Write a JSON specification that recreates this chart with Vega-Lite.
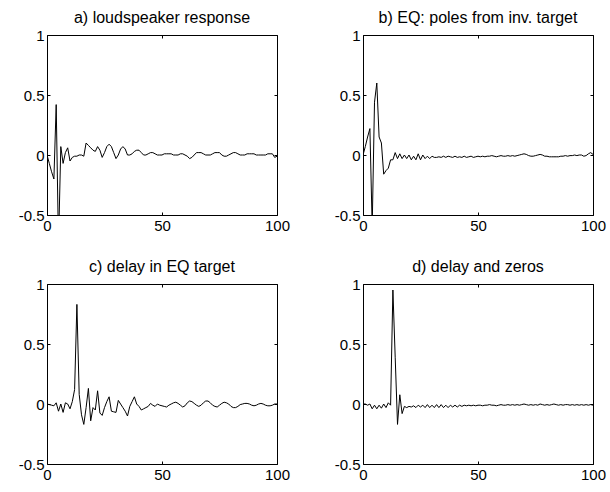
{
  "$schema": "https://vega.github.io/schema/vega-lite/v6.json",
  "background": "white",
  "padding": {"left": 17, "top": 9, "right": 5, "bottom": 5},
  "data": {"values": [
    {"n":0,"a":0.0,"b":0.0,"c":0.0,"d":0.0},
    {"n":1,"a":-0.07,"b":0.07,"c":-0.005,"d":0.0},
    {"n":2,"a":-0.14,"b":0.15,"c":-0.01,"d":-0.01},
    {"n":3,"a":-0.2,"b":0.22,"c":-0.015,"d":0.0},
    {"n":4,"a":0.42,"b":-0.6,"c":0.01,"d":-0.04},
    {"n":5,"a":-0.75,"b":0.44,"c":-0.06,"d":-0.01},
    {"n":6,"a":0.07,"b":0.6,"c":0.0,"d":-0.04},
    {"n":7,"a":-0.07,"b":0.15,"c":-0.07,"d":-0.01},
    {"n":8,"a":0.02,"b":0.1,"c":0.01,"d":-0.035},
    {"n":9,"a":0.06,"b":-0.16,"c":0.0,"d":0.0},
    {"n":10,"a":-0.05,"b":-0.13,"c":-0.04,"d":-0.03},
    {"n":11,"a":-0.02,"b":-0.11,"c":0.02,"d":0.01},
    {"n":12,"a":-0.01,"b":-0.04,"c":0.12,"d":-0.01},
    {"n":13,"a":-0.01,"b":-0.04,"c":0.83,"d":0.95},
    {"n":14,"a":0.0,"b":0.02,"c":0.08,"d":0.39},
    {"n":15,"a":0.0,"b":-0.03,"c":-0.09,"d":-0.17},
    {"n":16,"a":-0.01,"b":0.01,"c":-0.17,"d":0.077},
    {"n":17,"a":0.1,"b":-0.03,"c":-0.03,"d":-0.08},
    {"n":18,"a":0.08,"b":0.0,"c":0.13,"d":-0.02},
    {"n":19,"a":0.06,"b":-0.03,"c":-0.14,"d":-0.03},
    {"n":20,"a":0.04,"b":0.0,"c":-0.03,"d":-0.02},
    {"n":21,"a":0.03,"b":-0.04,"c":-0.05,"d":-0.025},
    {"n":22,"a":0.07,"b":-0.01,"c":0.11,"d":-0.015},
    {"n":23,"a":0.04,"b":-0.04,"c":-0.075,"d":-0.03},
    {"n":24,"a":-0.02,"b":0.01,"c":-0.095,"d":-0.01},
    {"n":25,"a":0.02,"b":-0.04,"c":-0.03,"d":-0.025},
    {"n":26,"a":0.07,"b":0.0,"c":0.02,"d":-0.01},
    {"n":27,"a":0.09,"b":-0.03,"c":0.06,"d":-0.03},
    {"n":28,"a":0.07,"b":-0.01,"c":-0.06,"d":-0.005},
    {"n":29,"a":0.02,"b":-0.03,"c":-0.065,"d":-0.03},
    {"n":30,"a":-0.03,"b":-0.01,"c":-0.07,"d":-0.01},
    {"n":31,"a":0.0,"b":-0.02,"c":0.03,"d":-0.03},
    {"n":32,"a":0.05,"b":-0.02,"c":0.0,"d":-0.005},
    {"n":33,"a":0.07,"b":-0.015,"c":-0.03,"d":-0.03},
    {"n":34,"a":0.05,"b":-0.02,"c":-0.06,"d":-0.005},
    {"n":35,"a":0.0,"b":-0.01,"c":-0.1,"d":-0.03},
    {"n":36,"a":0.0,"b":-0.02,"c":-0.02,"d":-0.01},
    {"n":37,"a":0.01,"b":-0.01,"c":0.02,"d":-0.03},
    {"n":38,"a":0.03,"b":-0.015,"c":0.06,"d":-0.01},
    {"n":39,"a":0.04,"b":-0.02,"c":0.0,"d":-0.025},
    {"n":40,"a":0.04,"b":-0.01,"c":-0.02,"d":-0.01},
    {"n":41,"a":0.02,"b":-0.02,"c":-0.05,"d":-0.025},
    {"n":42,"a":0.0,"b":-0.015,"c":-0.04,"d":-0.01},
    {"n":43,"a":0.0,"b":-0.02,"c":-0.03,"d":-0.02},
    {"n":44,"a":0.01,"b":-0.01,"c":-0.02,"d":-0.01},
    {"n":45,"a":0.02,"b":-0.02,"c":0.005,"d":-0.015},
    {"n":46,"a":0.02,"b":-0.015,"c":-0.01,"d":-0.01},
    {"n":47,"a":0.01,"b":-0.01,"c":-0.02,"d":-0.015},
    {"n":48,"a":0.0,"b":-0.02,"c":0.0,"d":-0.01},
    {"n":49,"a":0.0,"b":-0.015,"c":-0.01,"d":-0.015},
    {"n":50,"a":0.0,"b":-0.01,"c":-0.015,"d":-0.01},
    {"n":51,"a":0.01,"b":-0.015,"c":-0.02,"d":-0.01},
    {"n":52,"a":0.01,"b":-0.01,"c":-0.025,"d":-0.015},
    {"n":53,"a":0.01,"b":-0.015,"c":-0.01,"d":-0.01},
    {"n":54,"a":0.01,"b":-0.01,"c":0.0,"d":-0.01},
    {"n":55,"a":0.0,"b":-0.01,"c":0.01,"d":-0.005},
    {"n":56,"a":0.0,"b":-0.005,"c":0.015,"d":-0.01},
    {"n":57,"a":0.0,"b":-0.01,"c":0.005,"d":-0.01},
    {"n":58,"a":0.01,"b":-0.015,"c":-0.01,"d":-0.015},
    {"n":59,"a":0.01,"b":-0.01,"c":-0.025,"d":-0.01},
    {"n":60,"a":0.0,"b":-0.005,"c":-0.015,"d":-0.005},
    {"n":61,"a":-0.01,"b":-0.01,"c":0.01,"d":-0.01},
    {"n":62,"a":-0.03,"b":-0.01,"c":0.025,"d":-0.01},
    {"n":63,"a":-0.02,"b":-0.005,"c":0.02,"d":-0.005},
    {"n":64,"a":0.0,"b":-0.01,"c":0.005,"d":-0.01},
    {"n":65,"a":0.02,"b":-0.005,"c":-0.01,"d":-0.005},
    {"n":66,"a":0.02,"b":-0.01,"c":-0.02,"d":-0.01},
    {"n":67,"a":0.02,"b":-0.005,"c":-0.01,"d":-0.005},
    {"n":68,"a":0.01,"b":0.0,"c":0.01,"d":-0.01},
    {"n":69,"a":0.0,"b":0.005,"c":0.025,"d":-0.005},
    {"n":70,"a":0.0,"b":0.01,"c":0.025,"d":0.0},
    {"n":71,"a":0.0,"b":0.005,"c":0.01,"d":-0.005},
    {"n":72,"a":0.01,"b":-0.005,"c":-0.01,"d":-0.01},
    {"n":73,"a":0.02,"b":-0.01,"c":-0.02,"d":-0.005},
    {"n":74,"a":0.02,"b":-0.01,"c":-0.025,"d":-0.01},
    {"n":75,"a":0.02,"b":-0.005,"c":-0.01,"d":-0.005},
    {"n":76,"a":0.0,"b":0.0,"c":0.005,"d":-0.01},
    {"n":77,"a":-0.01,"b":0.005,"c":0.015,"d":0.0},
    {"n":78,"a":-0.01,"b":0.0,"c":0.01,"d":-0.005},
    {"n":79,"a":0.0,"b":-0.01,"c":0.0,"d":-0.01},
    {"n":80,"a":0.01,"b":-0.01,"c":-0.02,"d":-0.005},
    {"n":81,"a":0.02,"b":-0.015,"c":-0.03,"d":-0.01},
    {"n":82,"a":0.02,"b":-0.015,"c":-0.03,"d":-0.005},
    {"n":83,"a":0.01,"b":-0.015,"c":-0.02,"d":0.0},
    {"n":84,"a":0.0,"b":-0.015,"c":-0.005,"d":-0.005},
    {"n":85,"a":0.0,"b":-0.015,"c":0.0,"d":-0.01},
    {"n":86,"a":0.0,"b":-0.01,"c":0.005,"d":-0.005},
    {"n":87,"a":0.01,"b":-0.01,"c":0.005,"d":-0.01},
    {"n":88,"a":0.01,"b":-0.005,"c":0.0,"d":-0.005},
    {"n":89,"a":0.01,"b":-0.01,"c":-0.01,"d":-0.005},
    {"n":90,"a":0.01,"b":-0.005,"c":-0.015,"d":-0.01},
    {"n":91,"a":0.0,"b":-0.005,"c":-0.01,"d":-0.005},
    {"n":92,"a":0.0,"b":0.0,"c":0.0,"d":-0.01},
    {"n":93,"a":0.0,"b":-0.005,"c":0.005,"d":-0.005},
    {"n":94,"a":0.0,"b":0.0,"c":0.0,"d":-0.01},
    {"n":95,"a":0.0,"b":0.0,"c":-0.01,"d":-0.005},
    {"n":96,"a":0.01,"b":-0.01,"c":-0.015,"d":-0.01},
    {"n":97,"a":0.01,"b":-0.005,"c":-0.015,"d":-0.005},
    {"n":98,"a":0.01,"b":0.01,"c":-0.01,"d":-0.01},
    {"n":99,"a":-0.02,"b":0.02,"c":0.0,"d":-0.005},
    {"n":100,"a":-0.01,"b":0.005,"c":0.0,"d":-0.01}
  ]},
  "columns": 2,
  "spacing": {"row": 69, "column": 86},
  "bounds": "flush",
  "concat": [
    {
      "title": "a) loudspeaker response",
      "width": 230, "height": 180,
      "layer": [
        {"mark": {"type": "line", "color": "black", "strokeWidth": 1, "clip": true},
         "encoding": {
           "x": {"field": "n", "type": "quantitative", "scale": {"domain": [0, 100], "nice": false}, "axis": {"values": [0, 50, 100], "title": null}},
           "y": {"field": "a", "type": "quantitative", "scale": {"domain": [-0.5, 1], "nice": false}, "axis": {"values": [-0.5, 0, 0.5, 1], "title": null, "labelExpr": "toString(datum.value)"}}
         }},
        {"mark": {"type": "line", "opacity": 0},
         "encoding": {
           "x": {"field": "n", "type": "quantitative", "axis": {"orient": "top", "values": [0, 50, 100], "labels": false, "title": null}},
           "y": {"field": "a", "type": "quantitative", "axis": {"orient": "right", "values": [-0.5, 0, 0.5, 1], "labels": false, "title": null}}
         }}
      ],
      "resolve": {"axis": {"x": "independent", "y": "independent"}}
    },
    {
      "title": "b) EQ: poles from inv. target",
      "width": 230, "height": 180,
      "layer": [
        {"mark": {"type": "line", "color": "black", "strokeWidth": 1, "clip": true},
         "encoding": {
           "x": {"field": "n", "type": "quantitative", "scale": {"domain": [0, 100], "nice": false}, "axis": {"values": [0, 50, 100], "title": null}},
           "y": {"field": "b", "type": "quantitative", "scale": {"domain": [-0.5, 1], "nice": false}, "axis": {"values": [-0.5, 0, 0.5, 1], "title": null, "labelExpr": "toString(datum.value)"}}
         }},
        {"mark": {"type": "line", "opacity": 0},
         "encoding": {
           "x": {"field": "n", "type": "quantitative", "axis": {"orient": "top", "values": [0, 50, 100], "labels": false, "title": null}},
           "y": {"field": "b", "type": "quantitative", "axis": {"orient": "right", "values": [-0.5, 0, 0.5, 1], "labels": false, "title": null}}
         }}
      ],
      "resolve": {"axis": {"x": "independent", "y": "independent"}}
    },
    {
      "title": "c) delay in EQ target",
      "width": 230, "height": 180,
      "layer": [
        {"mark": {"type": "line", "color": "black", "strokeWidth": 1, "clip": true},
         "encoding": {
           "x": {"field": "n", "type": "quantitative", "scale": {"domain": [0, 100], "nice": false}, "axis": {"values": [0, 50, 100], "title": null}},
           "y": {"field": "c", "type": "quantitative", "scale": {"domain": [-0.5, 1], "nice": false}, "axis": {"values": [-0.5, 0, 0.5, 1], "title": null, "labelExpr": "toString(datum.value)"}}
         }},
        {"mark": {"type": "line", "opacity": 0},
         "encoding": {
           "x": {"field": "n", "type": "quantitative", "axis": {"orient": "top", "values": [0, 50, 100], "labels": false, "title": null}},
           "y": {"field": "c", "type": "quantitative", "axis": {"orient": "right", "values": [-0.5, 0, 0.5, 1], "labels": false, "title": null}}
         }}
      ],
      "resolve": {"axis": {"x": "independent", "y": "independent"}}
    },
    {
      "title": "d) delay and zeros",
      "width": 230, "height": 180,
      "layer": [
        {"mark": {"type": "line", "color": "black", "strokeWidth": 1, "clip": true},
         "encoding": {
           "x": {"field": "n", "type": "quantitative", "scale": {"domain": [0, 100], "nice": false}, "axis": {"values": [0, 50, 100], "title": null}},
           "y": {"field": "d", "type": "quantitative", "scale": {"domain": [-0.5, 1], "nice": false}, "axis": {"values": [-0.5, 0, 0.5, 1], "title": null, "labelExpr": "toString(datum.value)"}}
         }},
        {"mark": {"type": "line", "opacity": 0},
         "encoding": {
           "x": {"field": "n", "type": "quantitative", "axis": {"orient": "top", "values": [0, 50, 100], "labels": false, "title": null}},
           "y": {"field": "d", "type": "quantitative", "axis": {"orient": "right", "values": [-0.5, 0, 0.5, 1], "labels": false, "title": null}}
         }}
      ],
      "resolve": {"axis": {"x": "independent", "y": "independent"}}
    }
  ],
  "config": {
    "view": {"stroke": "black", "strokeWidth": 1},
    "axis": {"domain": false, "grid": false, "ticks": true, "tickColor": "black", "tickSize": -3, "tickWidth": 1,
             "labelFont": "Liberation Sans", "labelFontSize": 15, "labelColor": "black", "labelPadding": 6,
             "labelFlush": false, "labelOverlap": false, "labelBound": false},
    "title": {"font": "Liberation Sans", "fontSize": 16, "fontWeight": "normal", "color": "black", "offset": 2}
  }
}
